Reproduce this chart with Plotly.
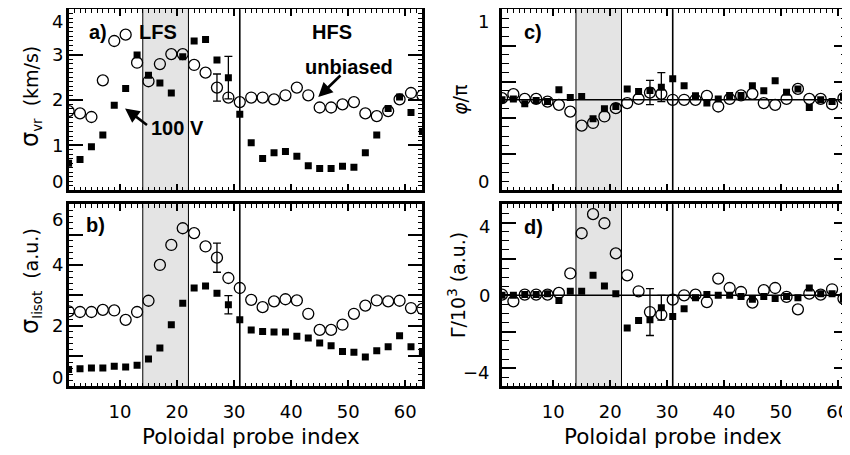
import plotly.graph_objects as go

# ---------------- data ----------------
probe_index = list(range(1, 64, 2))

# a) sigma_vr (km/s)
a_unbiased = [1.75, 1.70, 1.62, 2.43, 3.30, 3.44, 2.82, 2.41, 2.79, 3.01, 3.01, 2.77, 2.60, 2.27, 2.05, 1.95,
              2.05, 2.05, 2.01, 2.10, 2.27, 2.10, 1.83, 1.83, 1.90, 1.95, 1.70, 1.64, 1.75, 2.01, 2.15, 2.10]
a_biased = [0.60, 0.68, 0.96, 1.22, 1.88, 2.25, 2.99, 2.54, 2.37, 2.15, 2.95, 3.30, 3.33, 2.88, 2.49, 1.68,
            1.05, 0.70, 0.83, 0.86, 0.75, 0.54, 0.48, 0.48, 0.53, 0.51, 0.83, 1.22, 1.81, 2.06, 1.72, 1.30]
# b) sigma_Iisot (a.u.)
b_unbiased = [2.47, 2.45, 2.45, 2.52, 2.50, 2.19, 2.45, 2.82, 4.00, 4.66, 5.21, 5.05, 4.61, 4.24, 3.57, 3.24,
              2.85, 2.61, 2.80, 2.87, 2.83, 2.39, 1.86, 1.86, 2.03, 2.39, 2.66, 2.83, 2.80, 2.82, 2.58, 2.55]
b_biased = [0.55, 0.58, 0.60, 0.60, 0.66, 0.64, 0.69, 0.90, 1.26, 2.03, 2.74, 3.24, 3.31, 3.07, 2.69, 2.19,
            1.86, 1.81, 1.79, 1.79, 1.65, 1.59, 1.43, 1.34, 1.15, 1.12, 0.97, 1.17, 1.30, 1.67, 1.30, 1.15]
# c) phi / pi
c_unbiased = [0.509, 0.531, 0.505, 0.505, 0.490, 0.472, 0.435, 0.357, 0.372, 0.408, 0.454, 0.482, 0.505, 0.540,
              0.533, 0.500, 0.500, 0.500, 0.522, 0.463, 0.505, 0.524, 0.533, 0.482, 0.472, 0.505, 0.560, 0.505,
              0.505, 0.476, 0.509, 0.500]
c_biased = [0.500, 0.505, 0.478, 0.496, 0.490, 0.555, 0.513, 0.518, 0.395, 0.450, 0.463, 0.559, 0.546, 0.551,
            0.570, 0.616, 0.577, 0.522, 0.482, 0.504, 0.524, 0.524, 0.577, 0.550, 0.605, 0.542, 0.559, 0.458,
            0.500, 0.490, 0.515, 0.500]
# d) Gamma / 10^3 (a.u.)
d_unbiased = [0.04, -0.33, 0.04, 0.04, 0.04, 0.13, 1.20, 3.41, 4.46, 3.96, 2.30, 1.10, 0.22, -0.92, -1.07, -0.24,
              0.00, 0.04, -0.37, 0.92, 0.40, 0.18, -0.40, 0.28, 0.40, -0.09, -0.77, 0.09, 0.04, 0.33, -0.18, 0.00]
d_biased = [0.00, 0.00, 0.04, 0.04, 0.09, -0.28, 0.22, 0.22, 1.10, 0.51, 0.09, -1.80, -1.38, -1.34, -0.68, -1.16,
            -0.74, -0.13, 0.05, 0.00, 0.00, -0.06, -0.22, -0.06, -0.18, -0.06, -0.13, 0.40, 0.09, 0.09, -0.22, 0.00]

# error bars: unbiased at probe 27, biased at probe 29
err_probe_unbiased = 27
err_probe_biased = 29
a_err = [0.30, 0.47]
b_err = [0.48, 0.30]
c_err = [0.067, 0.08]
d_err = [1.29, 0.68]

lfs_band = [14, 22]
hfs_line = 31
x_tick_labels = ["10", "20", "30", "40", "50", "60"]
a_yticks = ["0", "1", "2", "3", "4"]
b_yticks = ["0", "2", "4", "6"]
c_yticks = ["0", "1"]
d_yticks = ["−4", "0", "4"]

# ---------------- layout helpers ----------------
# the page body has an 8 px margin, so the figure is made 8 px smaller and all
# window-pixel positions are shifted by that offset
OFF = 8
W, H = 850 - OFF, 455 - OFF
FONT = "DejaVu Sans, Liberation Sans, sans-serif"
BFONT = "Liberation Sans, Arial, sans-serif"


def fx(p):
    return (p - OFF) / W


def fy(p):
    return 1 - (p - OFF) / H


LEFT = [fx(68.6), fx(422.4)]
RIGHT = [fx(502.0), fx(848.0)]
TOP = [fy(190.3), fy(9.3)]
BOT = [fy(386.3), fy(204.3)]

fig = go.Figure()

panels = [
    ("x", "y", a_unbiased, a_biased, a_err),
    ("x2", "y2", b_unbiased, b_biased, b_err),
    ("x3", "y3", c_unbiased, c_biased, c_err),
    ("x4", "y4", d_unbiased, d_biased, d_err),
]

for xa, ya, unb, bia, err in panels:
    fig.add_trace(go.Scatter(x=probe_index, y=unb, mode="markers", xaxis=xa, yaxis=ya,
                             marker=dict(symbol="circle-open", size=11, color="black",
                                         line=dict(width=1.3, color="black")),
                             hoverinfo="skip"))
    fig.add_trace(go.Scatter(x=probe_index, y=bia, mode="markers", xaxis=xa, yaxis=ya,
                             marker=dict(symbol="square", size=7, color="black"),
                             hoverinfo="skip"))
    iu = probe_index.index(err_probe_unbiased)
    ib = probe_index.index(err_probe_biased)
    fig.add_trace(go.Scatter(x=[probe_index[iu], probe_index[ib]], y=[unb[iu], bia[ib]], mode="markers",
                             xaxis=xa, yaxis=ya,
                             marker=dict(size=1, color="rgba(0,0,0,0)"),
                             error_y=dict(type="data", array=err, visible=True, color="black",
                                          thickness=1.3, width=4),
                             hoverinfo="skip"))


def xaxis(domain, rng, anchor, labels):
    return dict(domain=domain, range=rng, anchor=anchor, showline=True, linewidth=2.5, linecolor="black",
                mirror="allticks", ticks="inside", ticklen=7, tickwidth=1.5, tickcolor="black",
                tickmode="array", tickvals=[int(t) for t in x_tick_labels], ticktext=x_tick_labels,
                showticklabels=labels, tickfont=dict(size=18, family=FONT, color="black"),
                minor=dict(dtick=1, tick0=0, ticklen=3.5, tickwidth=1, ticks="inside", tickcolor="black"),
                showgrid=False, zeroline=False, ticklabelstandoff=7)


def yaxis(domain, rng, anchor, dtick, tlen, mdtick, mlen):
    return dict(domain=domain, range=rng, anchor=anchor, showline=True, linewidth=2.5, linecolor="black",
                mirror="allticks", ticks="inside", ticklen=tlen, tickwidth=1.5, tickcolor="black",
                tick0=0, dtick=dtick, showticklabels=False,
                minor=dict(dtick=mdtick, tick0=0, ticklen=mlen, tickwidth=1, ticks="inside", tickcolor="black"),
                showgrid=False, zeroline=False)


fig.update_layout(
    width=W, height=H, margin=dict(l=0, r=0, t=0, b=0), autosize=False,
    plot_bgcolor="white", paper_bgcolor="white", showlegend=False,
    font=dict(family=FONT, color="black"),
    xaxis=xaxis(LEFT, [1, 63], "y", False),
    xaxis2=xaxis(LEFT, [1, 63], "y2", True),
    xaxis3=xaxis(RIGHT, [1, 61.8], "y3", False),
    xaxis4=xaxis(RIGHT, [1, 61.8], "y4", True),
    yaxis=yaxis(TOP, [0, 4], "x", 1, 15, 0.1, 5),
    yaxis2=yaxis(BOT, [0, 6], "x2", 1, 15, 0.2, 5),
    yaxis3=yaxis(TOP, [0, 1], "x3", 0.2, 14, 0.05, 7),
    yaxis4=yaxis(BOT, [-5, 5], "x4", 2, 14, 0.5, 7),
)

shapes = []
for xr, yr in [("x", "y"), ("x2", "y2"), ("x3", "y3"), ("x4", "y4")]:
    yd = yr + " domain"
    shapes.append(dict(type="rect", xref=xr, yref=yd, x0=lfs_band[0], x1=lfs_band[1], y0=0, y1=1,
                       fillcolor="#e4e4e4", line=dict(width=0), layer="below"))
    for xv in lfs_band:
        shapes.append(dict(type="line", xref=xr, yref=yd, x0=xv, x1=xv, y0=0, y1=1,
                           line=dict(color="black", width=1), layer="below"))
    shapes.append(dict(type="line", xref=xr, yref=yd, x0=hfs_line, x1=hfs_line, y0=0, y1=1,
                       line=dict(color="black", width=1.6), layer="below"))
shapes.append(dict(type="line", xref="x3 domain", yref="y3", x0=0, x1=1, y0=0.5, y1=0.5,
                   line=dict(color="black", width=1.5), layer="below"))
shapes.append(dict(type="line", xref="x4 domain", yref="y4", x0=0, x1=1, y0=0, y1=0,
                   line=dict(color="black", width=1.5), layer="below"))
fig.update_layout(shapes=shapes)

ann = []
TICKFONT = dict(size=18, family=FONT, color="black")


def ylabels(texts, yref, xpx, specs):
    # specs: (yanchor, yshift) per label; end labels sit inside the frame
    for t, (anc, s) in zip(texts, specs):
        v = float(t.replace("−", "-"))
        ann.append(dict(text=t, x=fx(xpx), xref="paper", y=v, yref=yref, xanchor="right", yanchor=anc,
                        yshift=s, showarrow=False, font=TICKFONT))


M = ("middle", 0)
ylabels(a_yticks, "y", 65, [("bottom", -4), M, M, M, ("top", 0)])
ylabels(b_yticks, "y2", 65, [("bottom", -4), M, M, ("top", -3)])
ylabels(c_yticks, "y3", 491, [("bottom", -4), ("top", 0)])
ylabels(d_yticks, "y4", 492, [("middle", -4), M, ("middle", -4)])

ytitles = [
    ("<span style='font-size:24px'>σ</span><sub>vr</sub>  (km/s)", 30, 97),
    ("<span style='font-size:24px'>σ</span><sub>Iisot</sub>  (a.u.)", 30, 281),
    ("<i>φ</i>/π", 460, 100),
    ("Γ/10<sup>3</sup> (a.u.)", 457, 285),
]
for t, xp, yp in ytitles:
    ann.append(dict(text=t, x=fx(xp), y=fy(yp), xref="paper", yref="paper", textangle=-90,
                    xanchor="center", yanchor="middle", showarrow=False,
                    font=dict(size=19, family=FONT, color="black")))

for xp in [251, 673]:
    ann.append(dict(text="Poloidal probe index", x=fx(xp), y=fy(436), xref="paper", yref="paper",
                    xanchor="center", yanchor="middle", showarrow=False,
                    font=dict(size=21.5, family=FONT, color="black")))

bold = dict(size=20, family=BFONT, color="black")
labels = [
    ("<b>a)</b>", "x", "y", 6.2, 3.5),
    ("<b>LFS</b>", "x", "y", 16.6, 3.5),
    ("<b>HFS</b>", "x", "y", 47.2, 3.5),
    ("<b>unbiased</b>", "x", "y", 50.1, 2.73),
    ("<b>100 V</b>", "x", "y", 20.1, 1.37),
    ("<b>b)</b>", "x2", "y2", 5.8, 5.32),
    ("<b>c)</b>", "x3", "y3", 6.5, 0.877),
    ("<b>d)</b>", "x4", "y4", 6.5, 3.77),
]
for t, xr, yr, xv, yv in labels:
    ann.append(dict(text=t, x=xv, y=yv, xref=xr, yref=yr, xanchor="center", yanchor="middle",
                    showarrow=False, font=bold))

for (hx, hy), (tx, ty) in [((10.9, 1.81), (15.0, 1.42)), ((44.75, 2.06), (48.9, 2.57))]:
    ann.append(dict(text="", x=hx, y=hy, xref="x", yref="y", ax=tx, ay=ty, axref="x", ayref="y",
                    showarrow=True, arrowhead=2, arrowsize=1.1, arrowwidth=2.6, arrowcolor="black"))

fig.update_layout(annotations=ann)
fig.write_html("out.html")
